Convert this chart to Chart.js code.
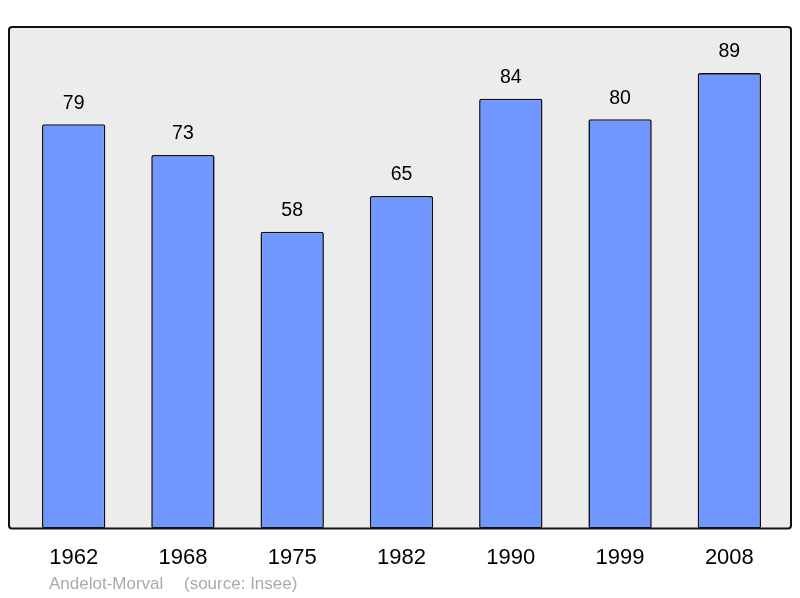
<!DOCTYPE html>
<html>
<head>
<meta charset="utf-8">
<script src="https://cdn.jsdelivr.net/npm/chart.js@4"></script>
<style>
  html, body { margin: 0; padding: 0; background: #fff; }
  #wrap { width: 800px; height: 598px; position: relative; }
</style>
</head>
<body>
<div id="wrap"><canvas id="popChart"></canvas></div>
<script>
// Données
const years = ["1962", "1968", "1975", "1982", "1990", "1999", "2008"];
const population = [79, 73, 58, 65, 84, 80, 89];
const townName = "Andelot-Morval";
const sourceText = "(source: Insee)";

// Fond gris, valeurs au-dessus des barres et pied de page
const decorPlugin = {
  id: "decor",
  beforeDraw(chart) {
    const { ctx, chartArea } = chart;
    const x0 = chartArea.left - 10, x1 = chartArea.right + 7;
    const y0 = chartArea.top, y1 = chartArea.bottom;
    ctx.save();
    ctx.beginPath();
    ctx.roundRect(x0, y0, x1 - x0, y1 - y0, 3);
    ctx.fillStyle = "#ececec";
    ctx.fill();
    ctx.restore();
  },
  afterDatasetsDraw(chart) {
    const { ctx, chartArea } = chart;
    const meta = chart.getDatasetMeta(0);
    ctx.save();
    ctx.font = "19.5px 'Liberation Sans', Arial, sans-serif";
    ctx.fillStyle = "#000";
    ctx.textAlign = "center";
    ctx.textBaseline = "middle";
    meta.data.forEach((bar, i) => {
      ctx.fillText(String(population[i]), bar.x, bar.y - 21);
    });
    // cadre
    const x0 = chartArea.left - 10, x1 = chartArea.right + 7;
    ctx.beginPath();
    ctx.roundRect(x0, chartArea.top, x1 - x0, chartArea.bottom - chartArea.top, 3);
    ctx.lineWidth = 2;
    ctx.strokeStyle = "#111";
    ctx.stroke();
    // pied de page
    ctx.font = "17px 'Liberation Sans', Arial, sans-serif";
    ctx.fillStyle = "#aaaaaa";
    ctx.textAlign = "left";
    ctx.fillText(townName, 49, 584);
    ctx.fillText(sourceText, 184, 584);
    ctx.restore();
  },
};

function initChart() {
  const ctx = document.getElementById("popChart").getContext("2d");
  new Chart(ctx, {
    type: "bar",
    data: {
      labels: years,
      datasets: [
        {
          data: population,
          backgroundColor: "#7097ff",
          borderColor: "#111",
          borderWidth: 1.6,
          borderRadius: 2,
          borderSkipped: false,
          barPercentage: 0.58,
          categoryPercentage: 1,
        },
      ],
    },
    options: {
      responsive: true,
      maintainAspectRatio: false,
      animation: false,
      layout: {
        padding: { left: 19, right: 16, top: 27, bottom: 19 },
      },
      plugins: {
        legend: { display: false },
        tooltip: { enabled: false },
      },
      scales: {
        y: {
          display: false,
          min: 0,
          max: 98,
        },
        x: {
          grid: { display: false },
          border: { display: false },
          ticks: {
            color: "#000",
            padding: 8,
            font: { size: 22, family: "'Liberation Sans', Arial, sans-serif" },
          },
        },
      },
    },
    plugins: [decorPlugin],
  });
}

if (document.readyState === "complete") {
  initChart();
} else {
  document.addEventListener("DOMContentLoaded", initChart);
}
</script>
</body>
</html>
